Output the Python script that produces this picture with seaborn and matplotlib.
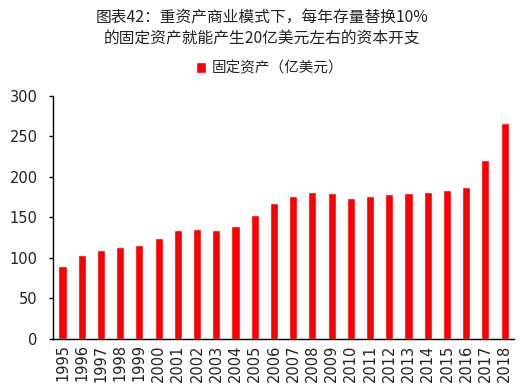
import numpy as np
import pandas as pd
import matplotlib
matplotlib.use("Agg")
import matplotlib.pyplot as plt
import seaborn as sns

years = [str(y) for y in range(1995, 2019)]
assets = [90, 103, 110, 114, 116, 124, 134, 136, 134, 139, 153, 168,
          176, 182, 180, 174, 176, 179, 180, 182, 184, 187, 221, 266]
series_name = "固定资产（亿美元）"
title = "图表42：重资产商业模式下，每年存量替换10%\n的固定资产就能产生20亿美元左右的资本开支"

df = pd.DataFrame({"year": years, "value": assets})

sns.set_style("white")
plt.rcParams['font.family'] = ['Noto Sans CJK SC', 'DejaVu Sans']

fig = plt.figure(figsize=(5.29, 3.9), dpi=100)
ax = fig.add_axes([0.1, 0.131, 0.872, 0.623])

sns.barplot(data=df, x="year", y="value", color="#ff0000", saturation=1,
            width=0.42, ax=ax, label=series_name)

ax.set_xlim(-0.5, len(years) - 0.5)
ax.set_ylim(0, 300)
ax.set_yticks(range(0, 301, 50))
ax.set_xlabel("")
ax.set_ylabel("")
for s in ["top", "right"]:
    ax.spines[s].set_visible(False)
for s in ["left", "bottom"]:
    ax.spines[s].set_color("black")
    ax.spines[s].set_linewidth(1)

ax.tick_params(axis="x", which="major", length=0, labelsize=10.5, rotation=90, pad=4)
ax.set_xticks(np.arange(-0.5, len(years), 1), minor=True)
ax.tick_params(axis="x", which="minor", length=4, width=1, direction="out", color="black")
ax.tick_params(axis="y", length=3, width=1, direction="out", color="black",
               labelsize=10.5, left=True, pad=8)
for lbl in ax.get_yticklabels() + ax.get_xticklabels():
    lbl.set_fontfamily(["DejaVu Sans"])
    lbl.set_color("#222222")

fig.text(0.495, 0.975, title, ha="center", va="top", fontsize=11.3,
         linespacing=1.3, color="#222222")

leg = ax.legend(loc="lower center", bbox_to_anchor=(0.47, 1.03), frameon=False,
                fontsize=10.5, handlelength=0.7, handleheight=0.7, handletextpad=0.4)

fig.savefig("out.png", dpi=100)
